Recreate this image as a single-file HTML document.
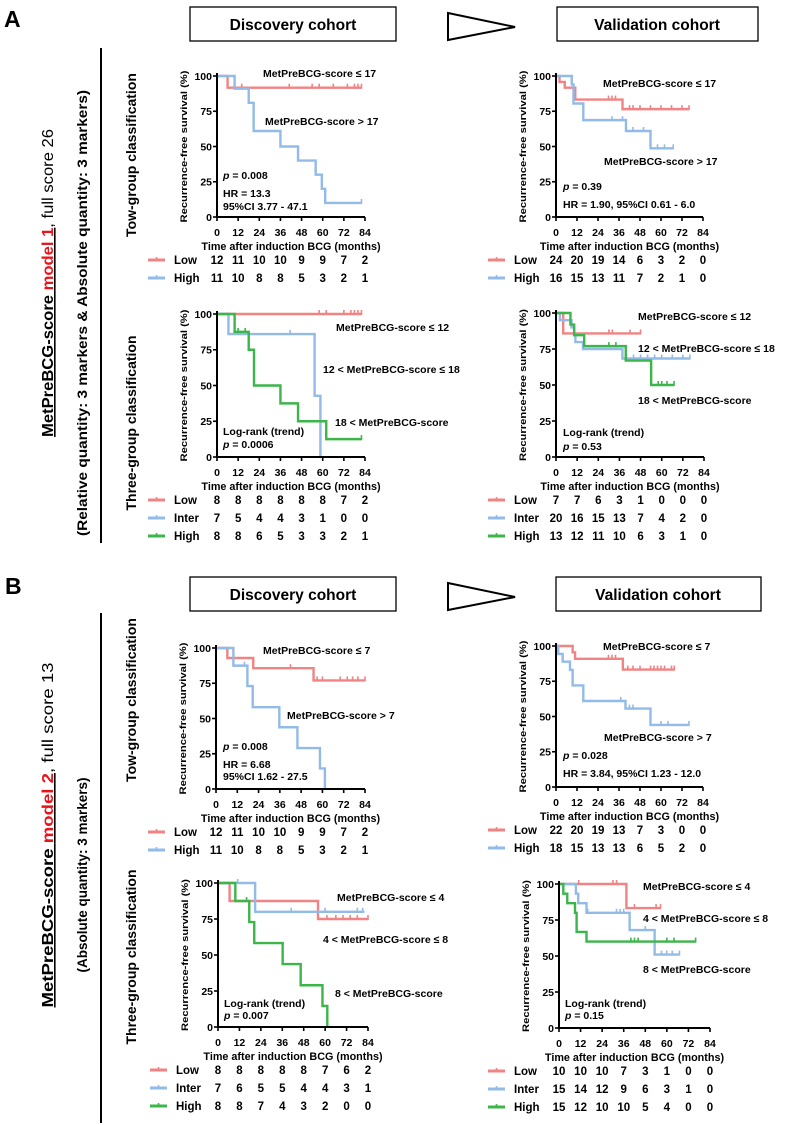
<!DOCTYPE html>
<html><head><meta charset="utf-8"><title>MetPreBCG-score KM curves</title>
<style>
html,body{margin:0;padding:0;background:#fff;}
svg{display:block;font-family:"Liberation Sans",Arial,sans-serif;}
.b{font-weight:bold;}
</style></head>
<body>
<svg id="fig" width="789" height="1125" viewBox="0 0 789 1125" xmlns="http://www.w3.org/2000/svg">
  <text x="4" y="27" font-size="23" class="b">A</text>
  <rect x="190" y="7" width="206" height="34" fill="none" stroke="#000" stroke-width="1.3"/>
  <text x="293" y="30" font-size="15.5" class="b" text-anchor="middle">Discovery cohort</text>
  <polygon points="448,13 515,27 448,40" fill="none" stroke="#000" stroke-width="2"/>
  <rect x="557" y="7" width="201" height="34" fill="none" stroke="#000" stroke-width="1.3"/>
  <text x="657" y="30" font-size="15.5" class="b" text-anchor="middle">Validation cohort</text>

  <text x="5" y="594" font-size="23" class="b">B</text>
  <rect x="190" y="577" width="206" height="34" fill="none" stroke="#000" stroke-width="1.3"/>
  <text x="293" y="600" font-size="15.5" class="b" text-anchor="middle">Discovery cohort</text>
  <polygon points="448,583 515,597 448,610" fill="none" stroke="#000" stroke-width="2"/>
  <rect x="556" y="577" width="205" height="34" fill="none" stroke="#000" stroke-width="1.3"/>
  <text x="658" y="600" font-size="15.5" class="b" text-anchor="middle">Validation cohort</text>

  <g transform="translate(53,283) rotate(-90)">
    <text x="0" y="0" font-size="16" text-anchor="middle" textLength="308" lengthAdjust="spacingAndGlyphs"><tspan class="b" text-decoration="underline">MetPreBCG-score <tspan fill="#e8131b">model 1</tspan></tspan>, full score 26</text>
  </g>
  <text transform="translate(87,313) rotate(-90)" font-size="13.5" class="b" text-anchor="middle" textLength="446" lengthAdjust="spacingAndGlyphs">(Relative quantity: 3 markers &amp; Absolute quantity: 3 markers)</text>
  <line x1="101" y1="48" x2="101" y2="543" stroke="#000" stroke-width="2"/>
  <text transform="translate(136,155) rotate(-90)" font-size="14" class="b" text-anchor="middle">Tow-group classification</text>
  <text transform="translate(136,423) rotate(-90)" font-size="14" class="b" text-anchor="middle">Three-group classification</text>

  <g transform="translate(53,835) rotate(-90)">
    <text x="0" y="0" font-size="16" text-anchor="middle" textLength="345" lengthAdjust="spacingAndGlyphs"><tspan class="b" text-decoration="underline">MetPreBCG-score <tspan fill="#e8131b">model 2</tspan></tspan>, full score 13</text>
  </g>
  <text transform="translate(87,875) rotate(-90)" font-size="13.5" class="b" text-anchor="middle">(Absolute quantity: 3 markers)</text>
  <line x1="101" y1="613" x2="101" y2="1123" stroke="#000" stroke-width="2"/>
  <text transform="translate(136,700) rotate(-90)" font-size="14" class="b" text-anchor="middle">Tow-group classification</text>
  <text transform="translate(136,957) rotate(-90)" font-size="14" class="b" text-anchor="middle">Three-group classification</text>
</svg>
<script>
const xTicks = [0, 12, 24, 36, 48, 60, 72, 84];
const yTicks = [0, 25, 50, 75, 100];

const a1Low  = {t:[0,6], s:[100,91.7], end:82, cens:[10,14,41,54,58,66,74,78,80,82]};
const a1High = {t:[0,10,18,20.8,36,46,56,59.5,61.4], s:[100,91,81,61,50,40,30,20,10], end:82, cens:[82]};
const a1Risk = {Low:[12,11,10,10,9,9,7,2], High:[11,10,8,8,5,3,2,1]};

const a2Low  = {t:[0], s:[100], end:82, cens:[58,62,72,76,78,80,82]};
const a2Inter= {t:[0,6.5,55.4,58.7], s:[100,86,42.8,0], end:58.7, cens:[41.5]};
const a2High = {t:[0,10,18,21,36,46,62], s:[100,87.5,75,50,37.5,25,12.5], end:82, cens:[12,16,82]};
const a2Risk = {Low:[8,8,8,8,8,8,7,2], Inter:[7,5,4,4,3,1,0,0], High:[8,8,6,5,3,3,2,1]};

const a3Low  = {t:[0,2,5,11,38], s:[100,95.8,91.7,83.3,76.5], end:76, cens:[30,32,34,42,44,48,54,60,66,72,76]};
const a3High = {t:[0,9,10,15.6,40,54], s:[100,94,80.5,68.7,61,48.7], end:67, cens:[32,38,44,50,58,62,67]};
const a3Risk = {Low:[24,20,19,14,6,3,2,0], High:[16,15,13,11,7,2,1,0]};

const a4Low  = {t:[0,4.1], s:[100,85.8], end:48, cens:[30,32,42,48]};
const a4Inter= {t:[0,2.2,8.8,10.3,11,15.3,37.7], s:[100,95,90,85,79.8,75,68.4], end:76, cens:[40,44,48,52,56,60,66,72,76]};
const a4High = {t:[0,8.2,10.3,16,39.6,54], s:[100,92,84.6,77,67,50], end:67, cens:[30,34,58,60,63,67]};
const a4Risk = {Low:[7,7,6,3,1,0,0,0], Inter:[20,16,15,13,7,4,2,0], High:[13,12,11,10,6,3,1,0]};

const b1Low  = {t:[0,6.4,21,55], s:[100,92.9,85.7,77], end:84, cens:[10,42,57,60,70,74,77,80,84]};
const b1High = {t:[0,9.8,17.7,20.7,35.7,45.9,58.6,61.4], s:[100,87.5,73,58,43.8,29,14.6,0], end:61.4, cens:[16]};
const b1Risk = {Low:[12,11,10,10,9,9,7,2], High:[11,10,8,8,5,3,2,1]};

const b2Low  = {t:[0,6.5,56], s:[100,87.5,75], end:84, cens:[61,66,70,74,78,84]};
const b2Inter= {t:[0,20.8], s:[100,80], end:82, cens:[11,41,60,78,81]};
const b2High = {t:[0,9.7,17.5,20.3,36.2,46.3,58.5,61.2], s:[100,87.5,72.9,58.3,43.7,29,14.6,0], end:61.2, cens:[16]};
const b2Risk = {Low:[8,8,8,8,8,7,6,2], Inter:[7,6,5,5,4,4,3,1], High:[8,8,7,4,3,2,0,0]};

const b3Low  = {t:[0,9.5,10.9,38.2], s:[100,95.5,90.9,83.3], end:67.6, cens:[30,32,34,41,44,48,54,56,58,60,62,66,67.6]};
const b3High = {t:[0,1.3,3.8,8,9.5,15.6,39.7,54], s:[100,94.4,88.9,83,72,61,55.6,44], end:76, cens:[37,42,44,60,64,76]};
const b3Risk = {Low:[22,20,19,13,7,3,0,0], High:[18,15,13,13,6,5,2,0]};

const b4Low  = {t:[0,37.5], s:[100,83.3], end:56.5, cens:[11,30,32,42,54,56.5]};
const b4Inter= {t:[0,9.4,10.7,15.3,39.3,53.2], s:[100,93.3,86.7,80,68,51], end:67, cens:[16,32,34,36,48,57,60,63,67]};
const b4High = {t:[0,2.4,4.6,8.9,9.8,15.3], s:[100,93.3,86.7,80,66.7,60], end:76, cens:[40,42,44,60,64,76]};
const b4Risk = {Low:[10,10,10,7,3,1,0,0], Inter:[15,14,12,9,6,3,1,0], High:[15,12,10,10,5,4,0,0]};

const NS = "http://www.w3.org/2000/svg";
const svg = document.getElementById('fig');
const RED = '#f08383', BLUE = '#92bbe8', GREEN = '#3cb54a';
const COL3 = {Low:RED, Inter:BLUE, High:GREEN};
const COL2 = {Low:RED, High:BLUE};
function mk(tag, attrs, parent){
  const e = document.createElementNS(NS, tag);
  for (const k in attrs) e.setAttribute(k, attrs[k]);
  (parent||svg).appendChild(e);
  return e;
}
function sortSeries(d){
  const idx = d.t.map((v,i)=>i).sort((a,b)=>d.t[a]-d.t[b]);
  return {t:idx.map(i=>d.t[i]), s:idx.map(i=>d.s[i]), end:d.end, cens:d.cens};
}
function survAt(d, tm){
  let v = d.s[0];
  for (let i=0;i<d.t.length;i++){ if (d.t[i] <= tm) v = d.s[i]; }
  return v;
}
function panel(id, L, series, risk, texts){
  const COL = Object.keys(series).length === 3 ? COL3 : COL2;
  const g = mk('g', {});
  
  
  const X = m => L.x0 + m/84*L.w;
  const Y = p => L.y0 - p/100*L.h;
  Object.keys(series).forEach(k=>{
    const d = sortSeries(series[k]);
    let path = 'M' + X(0) + ' ' + Y(d.s[0]);
    for (let i=1;i<d.t.length;i++){
      path += ' H' + X(d.t[i]) + ' V' + Y(d.s[i]);
    }
    path += ' H' + X(d.end);
    const p = mk('path', {d:path, fill:'none', stroke:COL[k], 'stroke-width':2.4}, g);
    
    
    d.cens.forEach(c=>{
      const v = survAt(d, c);
      const t = mk('line', {x1:X(c), x2:X(c), y1:Y(v)+1, y2:Y(v)-4, stroke:COL[k], 'stroke-width':1.6}, g);
      
      
    });
  });
  const ax = mk('path', {d:'M'+L.x0+' '+(L.y0-L.h-3)+' V'+L.y0+' H'+(L.x0+L.w), fill:'none', stroke:'#000', 'stroke-width':2}, g);
  
  
  xTicks.forEach(v=>{
    mk('line', {x1:X(v), x2:X(v), y1:L.y0, y2:L.y0+4, stroke:'#000', 'stroke-width':1.6}, g);
    const t = mk('text', {x:X(v), y:L.y0+19, 'font-size':10.5, 'font-weight':'bold', 'text-anchor':'middle'}, g);
    t.textContent = v;
    
    
  });
  yTicks.forEach(v=>{
    mk('line', {x1:L.x0-4, x2:L.x0, y1:Y(v), y2:Y(v), stroke:'#000', 'stroke-width':1.6}, g);
    const t = mk('text', {x:L.x0-5, y:Y(v)+3.8, 'font-size':10.5, 'font-weight':'bold', 'text-anchor':'end'}, g);
    t.textContent = v;
    
    
  });
  const xt = mk('text', {x:L.x0+L.w/2, y:L.y0+33, 'font-size':10.8, 'font-weight':'bold', 'text-anchor':'middle'}, g);
  xt.textContent = 'Time after induction BCG (months)';
  
  
  const yt = mk('text', {transform:'translate('+(L.x0-30)+','+(L.y0-L.h/2)+') rotate(-90)', 'font-size':9.6, 'font-weight':'bold', 'text-anchor':'middle', textLength:152, lengthAdjust:'spacingAndGlyphs'}, g);
  yt.textContent = 'Recurrence-free survival (%)';
  
  
  Object.keys(risk).forEach((k,ri)=>{
    const ry = L.y0 + 47 + ri*18;
    const ic = mk('line', {x1:L.lx, x2:L.lx+17, y1:ry-4, y2:ry-4, stroke:COL[k], 'stroke-width':3}, g);
    
    
    mk('line', {x1:L.lx+8.5, x2:L.lx+8.5, y1:ry-7, y2:ry-4, stroke:COL[k], 'stroke-width':1.6}, g);
    const lb = mk('text', {x:L.lx+26, y:ry, 'font-size':11.5, 'font-weight':'bold'}, g);
    lb.textContent = k;
    
    
    risk[k].forEach((n,i)=>{
      const t = mk('text', {x:X(xTicks[i]), y:ry, 'font-size':11.5, 'font-weight':'bold', 'text-anchor':'middle'}, g);
      t.textContent = n;
      
      
    });
  });
  texts.forEach(a=>{
    const t = mk('text', {x:a[0], y:a[1]+3.8, 'font-size':10.5, 'font-weight':'bold'}, g);
    if (a[2].indexOf('p = ')===0){
      const i = mk('tspan', {'font-style':'italic'}, t); i.textContent = 'p';
      const r = mk('tspan', {}, t); r.textContent = a[2].slice(1);
    } else t.textContent = a[2];
    
    
  });
}

panel('a-discovery-two', {x0:217,y0:217,w:148,h:141,lx:148}, {Low:a1Low, High:a1High}, a1Risk,
 [[263,73,'MetPreBCG-score ≤ 17'],[265,121,'MetPreBCG-score > 17'],[223,175,'p = 0.008'],[223,193,'HR = 13.3'],[223,206,'95%CI 3.77 - 47.1']]);
panel('a-discovery-three', {x0:217,y0:457,w:148,h:143,lx:148}, {Low:a2Low, Inter:a2Inter, High:a2High}, a2Risk,
 [[336,327,'MetPreBCG-score ≤ 12'],[323,369,'12 < MetPreBCG-score ≤ 18'],[335,422,'18 < MetPreBCG-score'],[223,431,'Log-rank (trend)'],[223,444,'p = 0.0006']]);
panel('a-validation-two', {x0:556,y0:217,w:147,h:141,lx:488}, {Low:a3Low, High:a3High}, a3Risk,
 [[603,83,'MetPreBCG-score ≤ 17'],[604,161,'MetPreBCG-score > 17'],[563,186,'p = 0.39'],[563,204,'HR = 1.90, 95%CI 0.61 - 6.0']]);
panel('a-validation-three', {x0:556,y0:457,w:148,h:144,lx:488}, {Low:a4Low, Inter:a4Inter, High:a4High}, a4Risk,
 [[638,316,'MetPreBCG-score ≤ 12'],[638,348,'12 < MetPreBCG-score ≤ 18'],[638,400,'18 < MetPreBCG-score'],[563,432,'Log-rank (trend)'],[563,446,'p = 0.53']]);
panel('b-discovery-two', {x0:216,y0:789,w:149,h:141,lx:148}, {Low:b1Low, High:b1High}, b1Risk,
 [[263,650,'MetPreBCG-score ≤ 7'],[287,715,'MetPreBCG-score > 7'],[223,746,'p = 0.008'],[223,764,'HR = 6.68'],[223,776,'95%CI 1.62 - 27.5']]);
panel('b-discovery-three', {x0:218,y0:1027,w:150,h:144,lx:150}, {Low:b2Low, Inter:b2Inter, High:b2High}, b2Risk,
 [[337,897,'MetPreBCG-score ≤ 4'],[323,939,'4 < MetPreBCG-score ≤ 8'],[335,993,'8 < MetPreBCG-score'],[224,1003,'Log-rank (trend)'],[224,1015,'p = 0.007']]);
panel('b-validation-two', {x0:556,y0:787,w:147,h:141,lx:488}, {Low:b3Low, High:b3High}, b3Risk,
 [[603,646,'MetPreBCG-score ≤ 7'],[604,737,'MetPreBCG-score > 7'],[563,755,'p = 0.028'],[563,773,'HR = 3.84, 95%CI 1.23 - 12.0']]);
panel('b-validation-three', {x0:559,y0:1028,w:151,h:144,lx:488}, {Low:b4Low, Inter:b4Inter, High:b4High}, b4Risk,
 [[643,886,'MetPreBCG-score ≤ 4'],[643,918,'4 < MetPreBCG-score ≤ 8'],[643,969,'8 < MetPreBCG-score'],[565,1003,'Log-rank (trend)'],[565,1015,'p = 0.15']]);
</script>
</body></html>
